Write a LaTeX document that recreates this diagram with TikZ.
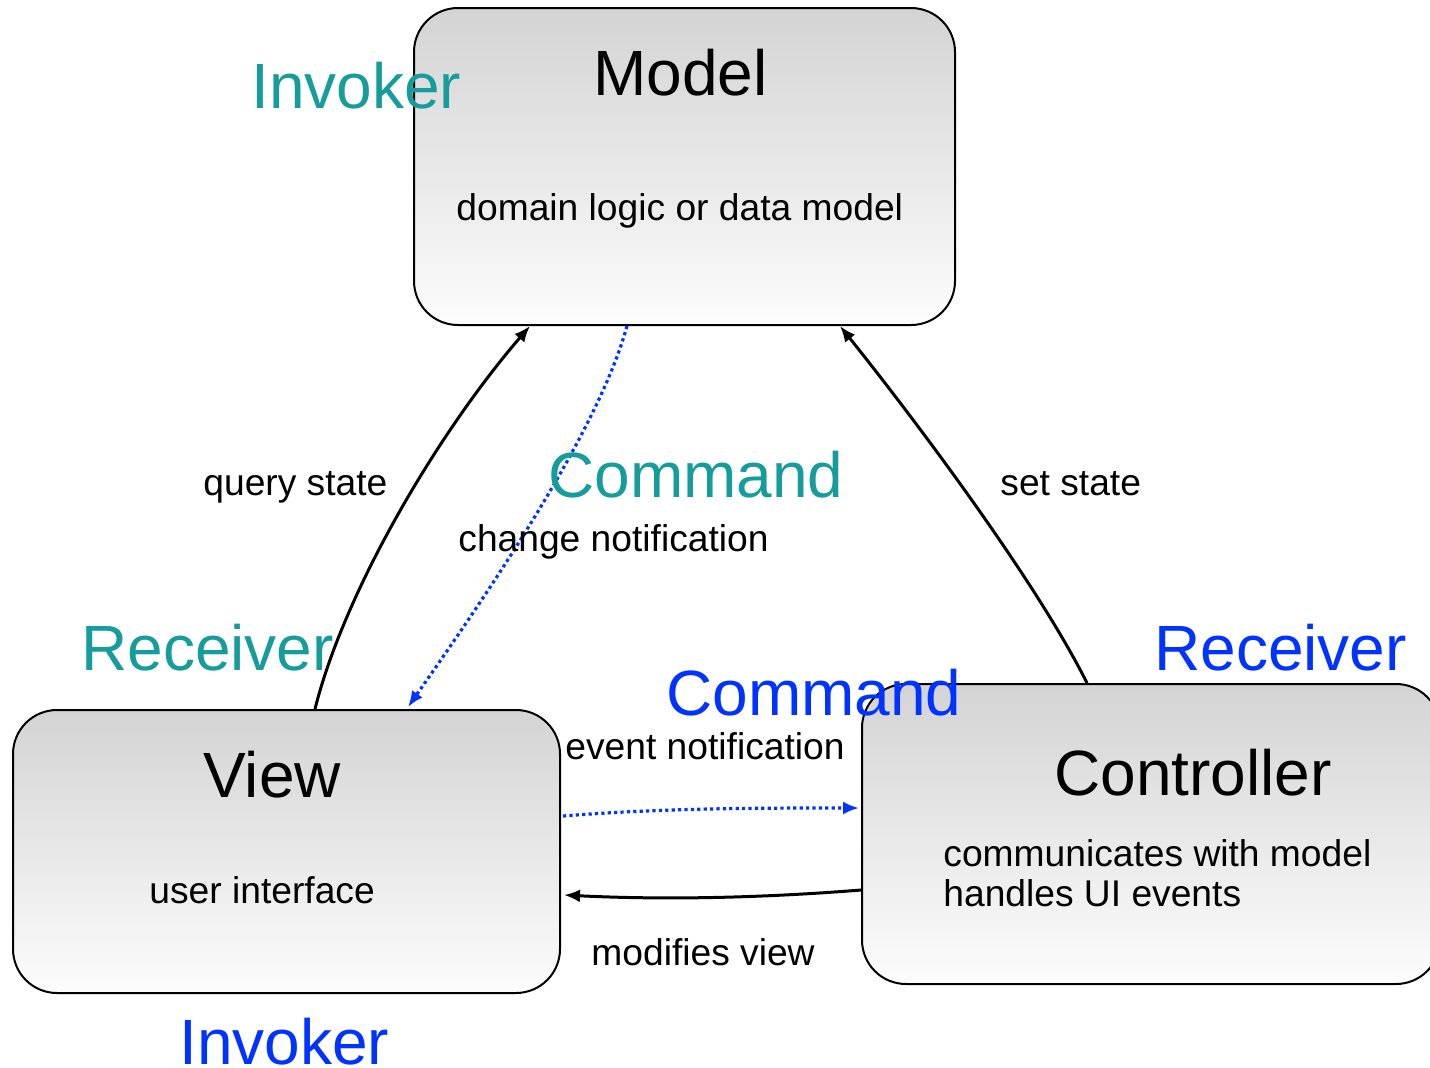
\documentclass[tikz,border=0pt]{standalone}
\usepackage{fontspec}
\setmainfont{Liberation Sans}
\usetikzlibrary{arrows.meta,calc}
\definecolor{tealtxt}{RGB}{23,156,156}
\definecolor{bluetxt}{RGB}{0,51,255}
\tikzset{
  box/.style={draw, line width=1pt, rounded corners=22pt, top color=black!17, bottom color=black!1},
  title/.style={anchor=base west, inner sep=0pt, font=\fontsize{32}{36}\selectfont},
  lbl/.style={anchor=base west, inner sep=0pt, font=\fontsize{18.6}{22}\selectfont},
  solidarr/.style={line width=1.5pt, -{Latex[length=8pt,width=6.5pt]}},
  dotarr/.style={bluetxt, line width=1.6pt, dash pattern=on 1.6pt off 1.6pt, -{Latex[length=8pt,width=6.5pt]}}
}
\begin{document}
\begin{tikzpicture}[x=0.5pt,y=0.5pt,yscale=-1,xscale=1]
\useasboundingbox (0,0) rectangle (1430,1067);

% Boxes
\node [box, minimum width=270.5pt, minimum height=158.5pt] (model) at (684.5,166.5) {};
\node [box, minimum width=273.5pt, minimum height=141.5pt] (view) at (286.5,851.5) {};
\node [box, minimum width=289pt, minimum height=150pt] (ctrl) at (1151,834) {};

% Connectors
\draw [solidarr] ($(view.north)+(28.5,0)$) .. controls +(30,-120) and +(-90,104) .. ($(model.south)+(-154.5,0)$);
\draw [solidarr] ($(ctrl.north)+(-64,0)$) .. controls +(-50,-100) and +(80,100) .. ($(model.south)+(155.5,0)$);
\draw [dotarr] ($(model.south)+(-57.5,0)$) .. controls +(-30,110) and +(70,-100) .. ($(view.north)+(121.5,-2)$);
\draw [dotarr] ($(view.east)+(2,-35.5)$) .. controls +(100,-8) and +(-100,0) .. ($(ctrl.west)+(-2,-26)$);
\draw [solidarr] ($(ctrl.west)+(0,56)$) .. controls +(-100,8) and +(100,5) .. ($(view.east)+(3,43.5)$);

% Text Node
\node [title] (modelt) at (593,95) {Model};
\node [lbl] (modeld) at (456,220) {domain logic or data model};
\node [title] (viewt) at (203,797) {View};
\node [lbl] (viewd) at (149,903) {user interface};
\node [title] (ctrlt) at (1054,795) {Controller};
\node [lbl] (ctrld1) at (943,866) {communicates with model};
\node [lbl] (ctrld2) at (943,906) {handles UI events};

% Labels on connectors
\node [lbl] (query) at (203,495) {query state};
\node [lbl] (setst) at (1000,495) {set state};
\node [lbl] (change) at (458,551) {change notification};
\node [lbl] (event) at (565,759) {event notification};
\node [lbl] (modif) at (591,965) {modifies view};

% Pattern roles
\node [title, tealtxt] (inv1) at (251,108) {Invoker};
\node [title, tealtxt] (cmd1) at (548,497) {Command};
\node [title, tealtxt] (rec1) at (81,670) {Receiver};
\node [title, bluetxt] (rec2) at (1154,670) {Receiver};
\node [title, bluetxt] (cmd2) at (666,715) {Command};
\node [title, bluetxt] (inv2) at (179,1064) {Invoker};

\end{tikzpicture}
\end{document}
